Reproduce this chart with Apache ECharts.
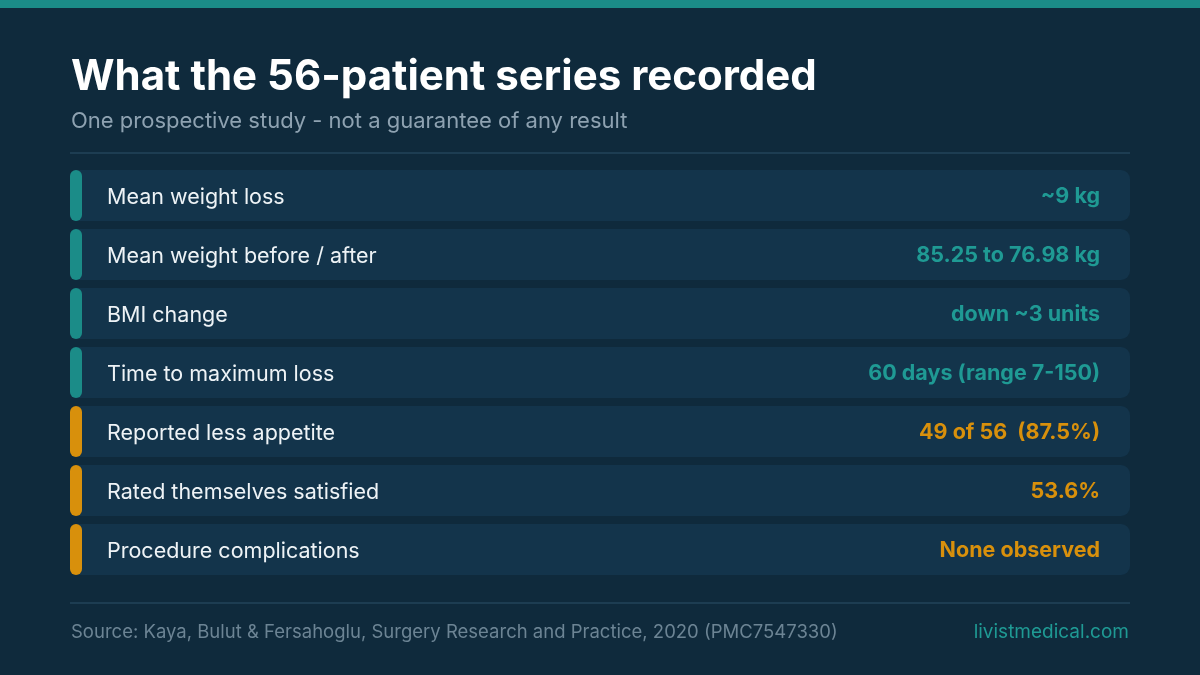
<!DOCTYPE html>
<html>
<head>
<meta charset="utf-8">
<script src="https://cdn.jsdelivr.net/npm/echarts@6/dist/echarts.min.js"></script>
<style>
  html, body { margin: 0; padding: 0; background: #0f2a3c; }
  #main { width: 1200px; height: 675px; }
</style>
</head>
<body>
<div id="main"></div>
<script>
// row labels, displayed values, and which group each row belongs to
var labels = ['Mean weight loss', 'Mean weight before / after', 'BMI change', 'Time to maximum loss',
              'Reported less appetite', 'Rated themselves satisfied', 'Procedure complications'];
var values = ['~9 kg', '85.25 to 76.98 kg', 'down ~3 units', '60 days (range 7-150)',
              '49 of 56  (87.5%)', '53.6%', 'None observed'];
var groups = ['measure', 'measure', 'measure', 'measure', 'report', 'report', 'report'];

var FONT = 'Inter, "Noto Sans", sans-serif';
var TEAL = '#1b8c88';
var AMBER = '#d8900c';
var ROW = '#13344b';

var myChart = echarts.init(document.getElementById('main'));

var full = labels.map(function () { return 1; });
var accent = labels.map(function (l, i) {
  return { value: 12 / 1060, itemStyle: { color: groups[i] === 'measure' ? TEAL : AMBER } };
});

var option = {
  backgroundColor: '#0f2a3c',
  animation: false,
  title: [{
    text: 'What the 56-patient series recorded',
    subtext: 'One prospective study - not a guarantee of any result',
    left: 66, top: 51,
    itemGap: 12,
    textStyle: { color: '#ffffff', fontSize: 42, fontWeight: 'bold', fontFamily: FONT },
    subtextStyle: { color: '#8ea2b1', fontSize: 22, fontFamily: FONT }
  }, {
    text: 'Source: Kaya, Bulut & Fersahoglu, Surgery Research and Practice, 2020 (PMC7547330)',
    left: 66, top: 618,
    textStyle: { color: '#6c8494', fontSize: 18.5, fontWeight: 'normal', fontFamily: FONT }
  }, {
    text: 'livistmedical.com',
    right: 66, top: 618,
    textStyle: { color: '#1f9a94', fontSize: 19, fontWeight: 'normal', fontFamily: FONT }
  }],
  graphic: [
    { type: 'rect', shape: { x: 0, y: 0, width: 1200, height: 8 }, style: { fill: TEAL } },
    { type: 'rect', shape: { x: 70, y: 152, width: 1060, height: 2 }, style: { fill: '#1d3d52' } },
    { type: 'rect', shape: { x: 70, y: 602, width: 1060, height: 2 }, style: { fill: '#1d3d52' } }
  ],
  grid: { left: 70, right: 70, top: 166, bottom: 96 },
  xAxis: { type: 'value', min: 0, max: 1, show: false },
  yAxis: {
    type: 'category', data: labels, inverse: true, show: false
  },
  series: [{
    type: 'bar',
    data: full,
    barWidth: 51,
    barGap: '-100%',
    itemStyle: { color: ROW, borderRadius: 9 },
    label: {
      show: true, position: 'insideLeft', distance: 37, offset: [0, 2],
      formatter: function (p) { return labels[p.dataIndex]; },
      color: '#eef3f6', fontSize: 21.5, fontFamily: FONT
    },
    z: 2
  }, {
    type: 'bar',
    data: full.map(function (v, i) {
      // amber values for the self-reported rows
      return { value: v, label: { color: groups[i] === 'measure' ? '#1f9a94' : AMBER } };
    }),
    barWidth: 51,
    barGap: '-100%',
    itemStyle: { color: 'transparent' },
    label: {
      show: true, position: 'insideRight', distance: 30, offset: [0, 1],
      formatter: function (p) { return values[p.dataIndex]; },
      fontSize: 21.5, fontWeight: 'bold', fontFamily: FONT
    },
    z: 3
  }, {
    type: 'bar',
    data: accent,
    barWidth: 51,
    barGap: '-100%',
    itemStyle: { borderRadius: 6 },
    z: 4
  }]
};

myChart.setOption(option);
</script>
</body>
</html>
